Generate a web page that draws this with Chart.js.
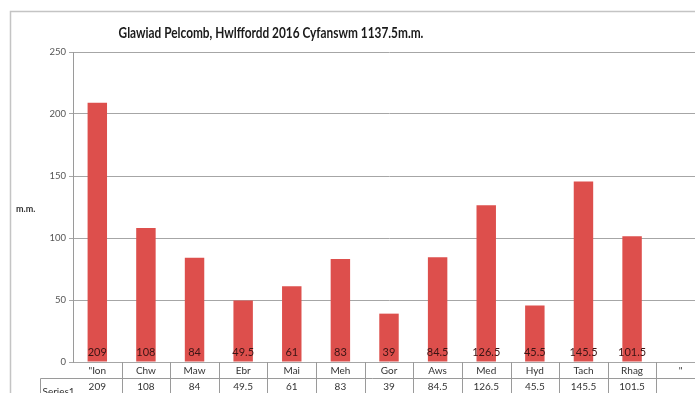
<!DOCTYPE html>
<html>
<head>
<meta charset="utf-8">
<script src="https://cdn.jsdelivr.net/npm/chart.js@4/dist/chart.umd.min.js"></script>
<style>
  html, body { margin: 0; padding: 0; background: #fff; overflow: hidden; }
  #wrap { width: 695px; height: 393px; overflow: hidden; position: relative; }
  canvas { position: absolute; left: 0; top: 0; }
</style>
</head>
<body>
<div id="wrap"><canvas id="rain" width="720" height="410"></canvas></div>
<script>
// data
const months = ['"Ion', 'Chw', 'Maw', 'Ebr', 'Mai', 'Meh', 'Gor', 'Aws', 'Med', 'Hyd', 'Tach', 'Rhag', '"'];
const rainfall = [209, 108, 84, 49.5, 61, 83, 39, 84.5, 126.5, 45.5, 145.5, 101.5, null];
const seriesName = 'Series1';
const titleText = 'Glawiad Pelcomb, Hwlffordd 2016 Cyfanswm 1137.5m.m.';
const yTitle = 'm.m.';

const FONT = 'Lato, "Open Sans", sans-serif';

// Excel style frame, title, data labels and data table
const excelBits = {
    id: 'excelBits',
    beforeDraw(chart) {
        const ctx = chart.ctx;
        ctx.save();
        ctx.strokeStyle = '#c4c4c4';
        ctx.lineWidth = 1.5;
        ctx.strokeRect(10.5, 11.5, 900, 900);
        ctx.restore();
    },
    afterDatasetsDraw(chart) {
        const { ctx } = chart;
        const y = chart.scales.y;
        const meta = chart.getDatasetMeta(0);
        const base = y.getPixelForValue(0);
        ctx.save();
        ctx.font = '11px ' + FONT;
        ctx.fillStyle = '#3a1414';
        ctx.textAlign = 'center';
        ctx.textBaseline = 'alphabetic';
        meta.data.forEach((bar, i) => {
            if (rainfall[i] == null) return;
            ctx.fillText(String(rainfall[i]), bar.x, base - 6);
        });
        ctx.restore();
    },
    afterDraw(chart) {
        const { ctx, chartArea } = chart;
        const x = chart.scales.x;
        const base = chart.scales.y.getPixelForValue(0);
        const half = (x.getPixelForValue(1) - x.getPixelForValue(0)) / 2;
        const row1 = base + 16.5;
        const keyLeft = 40.5;

        ctx.save();
        // title, squeezed a little to match the narrow original face
        ctx.save();
        ctx.font = 'bold 15px ' + FONT;
        ctx.fillStyle = '#1a1a1a';
        ctx.textAlign = 'center';
        ctx.textBaseline = 'middle';
        ctx.translate(271, 33);
        ctx.scale(0.79, 1);
        ctx.fillText(titleText, 0, 0);
        ctx.restore();

        // axis title
        ctx.font = 'bold 9px ' + FONT;
        ctx.textAlign = 'left';
        ctx.textBaseline = 'middle';
        ctx.fillStyle = '#333';
        ctx.fillText(yTitle, 16, 209);

        // table lines
        ctx.strokeStyle = '#9a9a9a';
        ctx.lineWidth = 1;
        ctx.beginPath();
        ctx.moveTo(keyLeft, row1);
        ctx.lineTo(chartArea.right, row1);
        ctx.moveTo(keyLeft, row1);
        ctx.lineTo(keyLeft, chart.height);
        months.forEach((m, i) => {
            const px = Math.round(x.getPixelForValue(i) + half) + 0.5;
            ctx.moveTo(px, base);
            ctx.lineTo(px, chart.height);
        });
        ctx.stroke();

        // table text
        ctx.font = '10px ' + FONT;
        ctx.fillStyle = '#333';
        ctx.textAlign = 'center';
        ctx.textBaseline = 'middle';
        months.forEach((m, i) => {
            const px = x.getPixelForValue(i);
            ctx.fillText(m, px, base + 8.5);
            if (rainfall[i] != null) ctx.fillText(String(rainfall[i]), px, row1 + 8.5);
        });
        ctx.textAlign = 'left';
        ctx.textBaseline = 'top';
        ctx.fillText(seriesName, keyLeft + 2, row1 + 8);
        ctx.restore();
    }
};

new Chart(document.getElementById('rain'), {
    type: 'bar',
    data: {
        labels: months,
        datasets: [{
            label: seriesName,
            data: rainfall,
            backgroundColor: '#dd4f4c',
            barPercentage: 0.4,
            categoryPercentage: 1,
        }],
    },
    options: {
        responsive: false,
        animation: false,
        devicePixelRatio: 1,
        layout: { padding: { left: 0, top: 52, right: 15, bottom: 48 } },
        plugins: {
            legend: { display: false },
            title: { display: false },
            tooltip: { enabled: false },
        },
        scales: {
            x: { display: false },
            y: {
                min: 0,
                max: 250,
                afterFit: s => { s.width = 73; },
                border: { display: true, color: '#9a9a9a' },
                grid: { color: '#a6a6a6', tickLength: 4 },
                ticks: {
                    stepSize: 50,
                    padding: 3,
                    color: '#555',
                    font: { family: FONT, size: 9.5 },
                },
            },
        },
    },
    plugins: [excelBits],
});
</script>
</body>
</html>
